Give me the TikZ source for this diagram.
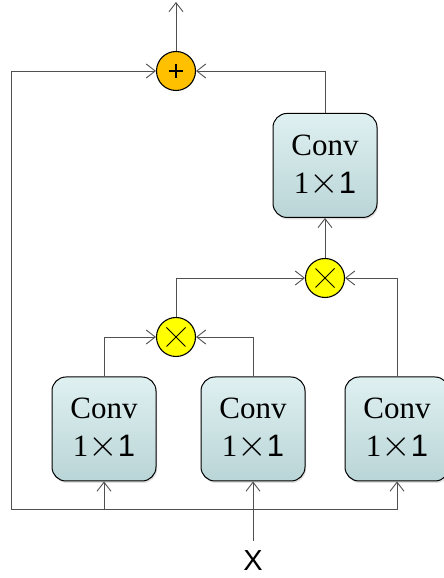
\documentclass[tikz,border=0pt]{standalone}
\usepackage{fix-cm}
\usepackage{fontspec}
\setmainfont{Liberation Serif}
\setsansfont{Liberation Sans}
\usetikzlibrary{positioning,shadows,arrows.meta}
\definecolor{boxtop}{HTML}{DFF0F1}
\definecolor{boxbot}{HTML}{BAD5D7}
\definecolor{wire}{HTML}{505050}
\definecolor{addfill}{HTML}{FFC000}
\definecolor{mulfill}{HTML}{FFFF00}
\tikzset{%
  conv/.style={draw=black,line width=1pt,rounded corners=14pt,
    minimum width=104pt,minimum height=104pt,inner sep=0pt,
    top color=boxtop,bottom color=boxbot,align=center,
    font=\fontsize{31}{38}\selectfont,
    drop shadow={shadow xshift=1pt,shadow yshift=-2pt,opacity=.25}},
  op/.style={circle,draw=black,line width=1.1pt,minimum size=39pt,inner sep=0pt},
  add/.style={op,fill=addfill,path picture={
    \draw[line width=1.8pt] (path picture bounding box.center) ++(-7pt,0) -- ++(14pt,0);
    \draw[line width=1.8pt] (path picture bounding box.center) ++(0,-7pt) -- ++(0,14pt);}},
  mul/.style={op,fill=mulfill,path picture={
    \draw[line width=.9pt] (path picture bounding box.center) ++(-9.5pt,-9.5pt) -- ++(19pt,19pt);
    \draw[line width=.9pt] (path picture bounding box.center) ++(-9.5pt,9.5pt) -- ++(19pt,-19pt);}},
  wire/.style={draw=wire,line width=.9pt},
  arr/.style={wire,-{Straight Barb[length=9pt,width=14pt]}}
}
\newcommand{\convtext}{Conv\\1{\fontsize{38}{38}\selectfont$\times$}{\sffamily\fontsize{31}{38}\selectfont 1}}

\begin{document}
\begin{tikzpicture}[x=1pt,y=1pt]
  \useasboundingbox (0,0) rectangle (444,578);

  \node [conv] (c1) at (104,149) {\convtext};
  \node [conv] (c2) at (253,149) {\convtext};
  \node [conv] (c3) at (397,149) {\convtext};
  \node [mul] (m2) at (176,241) {};
  \node [mul] (m1) at (325,300) {};
  \node [conv,above=40pt of m1] (c4) {\convtext};
  \node [add] (p) at (176,507) {};
  \node [font=\sffamily\fontsize{29}{29}\selectfont,inner sep=0pt] (x) at (253,17) {X};

  \coordinate (bl) at (11,69);
  \coordinate (out) at (176,576);

  % input and bus
  \draw [arr,shorten <=10pt] (x.north) -- (c2.south);
  \draw [arr] (bl) -- (c3.south |- bl) -- (c3.south);
  \draw [arr] (c1.south |- bl) -- (c1.south);
  \draw [arr] (bl) -- (bl |- p) -- (p.west);

  % attention branch
  \draw [arr] (c1.north) |- (m2.west);
  \draw [arr] (c2.north) |- (m2.east);
  \draw [arr] (m2.north) |- (m1.west);
  \draw [arr] (c3.north) |- (m1.east);
  \draw [arr] (m1.north) -- (c4.south);
  \draw [arr] (c4.north) |- (p.east);
  \draw [arr] (p.north) -- (out);
\end{tikzpicture}
\end{document}
